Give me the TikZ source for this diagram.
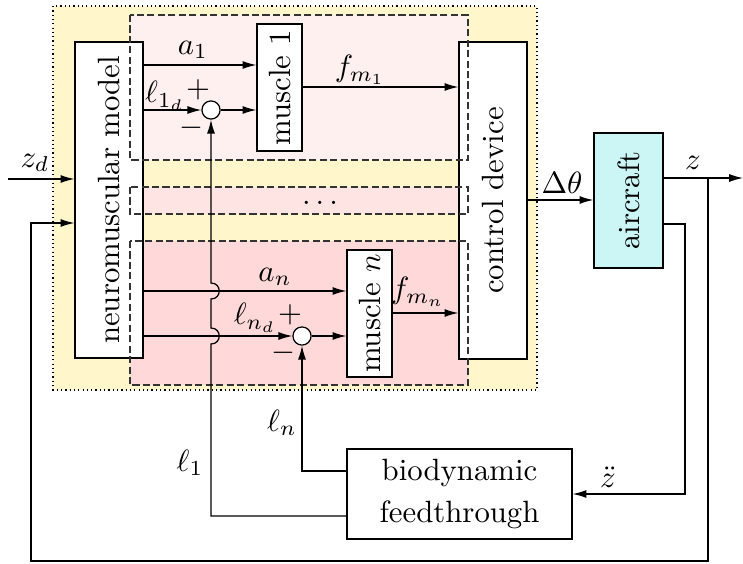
\documentclass[tikz,border=0pt]{standalone}
\usetikzlibrary{arrows.meta,fit,calc}
\definecolor{ylw}{HTML}{FFF6CC}
\definecolor{pka}{HTML}{FFF0F0}
\definecolor{pkb}{HTML}{FFE4E4}
\definecolor{pkc}{HTML}{FFD9D9}
\definecolor{cyb}{HTML}{CCF5F5}
\begin{document}
\begin{tikzpicture}[x=0.325pt,y=-0.325pt,
  >={Latex[length=4.5pt,width=2.6pt]},
  blk/.style={draw,fill=white,inner sep=0pt},
  sumj/.style={circle,draw,fill=white,inner sep=0pt,minimum size=5.9pt},
  lbl/.style={inner sep=0pt},
  rlbl/.style={rotate=90,inner sep=0pt},
  zone/.style={draw=black!80,dash pattern=on 2.3pt off 1.1pt}]
\useasboundingbox (0,0) rectangle (743,563);
% background zones
\fill[ylw] (53,6) rectangle (537,390);
\draw[dash pattern=on 0.4pt off 1pt] (53,6) rectangle (537,390);
\fill[pka] (130,15) rectangle (468,160);
\fill[pkb] (130,187) rectangle (468,214);
\fill[pkc] (130,241) rectangle (468,385);
% big boxes
\node[blk,fit={(75,42)(143,358)}] (nm) {};
\node[blk,fit={(459,42)(527,359)}] (cd) {};
% dashed borders
\draw[zone] (130,15) rectangle (468,160);
\draw[zone] (130,187) rectangle (468,214);
\draw[zone] (130,241) rectangle (468,385);
\node[rlbl] at (nm.center) {neuromuscular model};
\node[rlbl] at (cd.center) {control device};
\node[blk,fill=cyb,fit={(594,133)(663,268)}] (ac) {};
\node[rlbl] at (ac.center) {aircraft};
\node[blk,fit={(257,24)(302,151)}] (m1) {};
\node[rlbl] at (m1.center) {muscle 1};
\node[blk,fit={(347,250)(392,377)}] (mn) {};
\node[rlbl] at (mn.center) {muscle $n$};
\node[blk,fit={(347,449)(572,539)}] (bio) {};
\node[align=center] at (bio.center) {biodynamic\\[1.8pt]feedthrough};
\node[sumj] (s1) at (211,110) {};
\node[sumj] (s2) at (302,336) {};
\node[lbl] at (320,203) {$\dots$};
% connectors
\coordinate (zin) at (8,179);
\draw[->] (zin) -- (nm.west |- zin);
\draw[->] (nm.east |- 0,65) -- (m1.west |- 0,65);
\draw[->] (nm.east |- s1) -- (s1);
\draw[->] (s1) -- (m1.west |- s1);
\draw[->] (m1.east |- 0,87) -- (cd.west |- 0,87);
\draw[->] (nm.east |- 0,291) -- (mn.west |- 0,291);
\draw[->] (nm.east |- s2) -- (s2);
\draw[->] (s2) -- (mn.west |- s2);
\draw[->] (mn.east |- 0,313) -- (cd.west |- 0,313);
\draw[->] (cd.east |- 0,200) -- (ac.west |- 0,200);
\coordinate (zout) at (743,178);
\draw[->] (ac.east |- zout) -- (zout);
\coordinate (br) at (708,178);
\draw[->] (br) -- (708,561) -- (31,561) -- (31,223) -- (nm.west |- 0,223);
\draw[->] (ac.east |- 0,224) -- (685,224) |- (bio.east);
\draw[->] ($(bio.west)+(0,-23)$) -| (s2.south);
\draw[->] ($(bio.west)+(0,22)$) -- (211,516) -- (211,344)
   .. controls (222,344) and (222,328) .. (211,328) -- (211,299)
   .. controls (222,299) and (222,283) .. (211,283) -- (s1.south);
% labels
\node[lbl] at (35,163) {$z_d$};
\node[lbl] at (193,50) {$a_1$};
\node[lbl] at (165,96) {$\ell_{1_d}$};
\node[lbl] at (198,90) {$+$};
\node[lbl] at (191,128) {$-$};
\node[lbl] at (360,70) {$f_{m_1}$};
\node[lbl] at (275,277) {$a_n$};
\node[lbl] at (255,318) {$\ell_{n_d}$};
\node[lbl] at (290,315) {$+$};
\node[lbl] at (283,353) {$-$};
\node[lbl] at (418,292) {$f_{m_n}$};
\node[lbl] at (562,183) {$\Delta\theta$};
\node[lbl] at (693,163) {$z$};
\node[lbl] at (608,477) {$\ddot z$};
\node[lbl] at (282,423) {$\ell_n$};
\node[lbl] at (190,463) {$\ell_1$};
\end{tikzpicture}
\end{document}
